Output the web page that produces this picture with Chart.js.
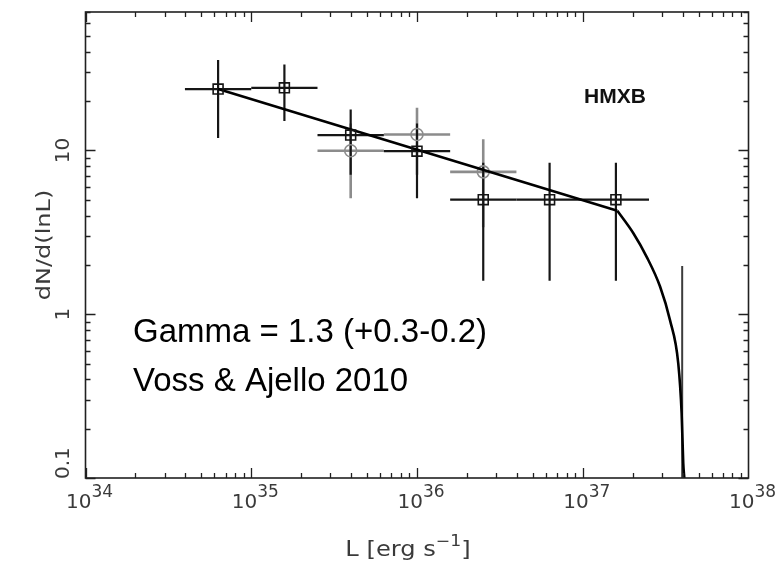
<!DOCTYPE html>
<html>
<head>
<meta charset="utf-8">
<script src="https://cdn.jsdelivr.net/npm/chart.js@4.4.1/dist/chart.umd.min.js"></script>
<style>
  html, body { margin: 0; padding: 0; background: #fff; }
  #wrap { width: 780px; height: 565px; position: relative; }
</style>
</head>
<body>
<div id="wrap"><canvas id="c" width="780" height="565"></canvas></div>
<script>
// Luminosity bins (erg/s): centres and edges, 0.4 dex wide
const binCenters = [6.31e34, 1.585e35, 3.98e35, 1.0e36, 2.51e36, 6.31e36, 1.585e37];
const binLow     = [3.98e34, 1.0e35, 2.51e35, 6.31e35, 1.585e36, 3.98e36, 1.0e37];
const binHigh    = [1.0e35, 2.51e35, 6.31e35, 1.585e36, 3.98e36, 1.0e37, 2.51e37];

// HMXB differential luminosity function (squares)
const hmxbValues = [23.7, 24.1, 12.4, 9.9, 5.0, 5.0, 5.0];
const hmxbUpper  = [35.6, 33.5, 17.8, 14.6, 8.4, 8.4, 8.4];
const hmxbLower  = [11.9, 15.1, 7.1, 5.1, 1.6, 1.6, 1.6];

// Alternative sample (grey circles)
const altCenters = [3.98e35, 1.0e36, 2.51e36];
const altLow     = [2.51e35, 6.31e35, 1.585e36];
const altHigh    = [6.31e35, 1.585e36, 3.98e36];
const altValues  = [9.96, 12.5, 7.4];
const altUpper   = [14.6, 18.2, 11.7];
const altLower   = [5.1, 7.1, 3.4];

// Empty bin: upper limit only
const limitL     = [3.98e37];
const limitUpper = [1.97];

// Best-fit power law and its high-luminosity cutoff
const fitL        = [6.31e34, 1.617e37];
const fitValues   = [23.7, 4.28];
const cutoffL     = [1.617e37, 2.02e37, 2.43e37, 2.93e37, 3.36e37, 3.77e37, 3.95e37, 4.04e37, 4.1e37];
const cutoffValues= [4.28, 3.12, 2.24, 1.47, 0.92, 0.50, 0.248, 0.123, 0.1];

// Axis ticks
const xTickExponents = [34, 35, 36, 37, 38];
const yTickValues    = [0.1, 1, 10];
const yTickLabels    = ['0.1', '1', '10'];

const X_MIN = 1e34, X_MAX = 1e38, Y_MIN = 0.1, Y_MAX = 70;
const AXIS_FONT = '"DejaVu Sans", sans-serif';
const AXIS_COLOR = '#3a3a3a';

// Error bars drawn underneath the markers
const errorBars = {
  id: 'errorBars',
  beforeDatasetsDraw(chart) {
    const { ctx, chartArea: a } = chart;
    const xs = chart.scales.x, ys = chart.scales.y;
    ctx.save();
    ctx.beginPath();
    ctx.rect(a.left, a.top, a.right - a.left, a.bottom - a.top);
    ctx.clip();
    ctx.lineCap = 'butt';
    function bars(cx, lo, hi, v, up, dn, color, w) {
      ctx.strokeStyle = color;
      ctx.lineWidth = w;
      for (let i = 0; i < cx.length; i++) {
        const px = xs.getPixelForValue(cx[i]);
        const py = ys.getPixelForValue(v[i]);
        ctx.beginPath();
        ctx.moveTo(xs.getPixelForValue(lo[i]), py);
        ctx.lineTo(xs.getPixelForValue(hi[i]), py);
        ctx.moveTo(px, ys.getPixelForValue(up[i]));
        ctx.lineTo(px, ys.getPixelForValue(dn[i]));
        ctx.stroke();
      }
    }
    bars(altCenters, altLow, altHigh, altValues, altUpper, altLower, '#8c8c8c', 2.6);
    bars(binCenters, binLow, binHigh, hmxbValues, hmxbUpper, hmxbLower, '#161616', 2.2);
    ctx.strokeStyle = '#3c3c3c';
    ctx.lineWidth = 2;
    limitL.forEach((l, i) => {
      const px = xs.getPixelForValue(l);
      ctx.beginPath();
      ctx.moveTo(px, ys.getPixelForValue(limitUpper[i]));
      ctx.lineTo(px, a.bottom);
      ctx.stroke();
    });
    ctx.restore();
  }
};

// Frame, inward ticks, tick labels, axis titles and annotations
const frameAndText = {
  id: 'frameAndText',
  afterDraw(chart) {
    const { ctx, chartArea: a } = chart;
    const xs = chart.scales.x, ys = chart.scales.y;
    ctx.save();
    ctx.strokeStyle = '#202020';
    ctx.lineWidth = 1.6;
    ctx.strokeRect(a.left, a.top, a.right - a.left, a.bottom - a.top);

    ctx.lineWidth = 1.3;
    ctx.beginPath();
    for (let d = 34; d <= 37; d++) {
      for (let k = 1; k <= 9; k++) {
        const px = Math.round(xs.getPixelForValue(k * Math.pow(10, d))) + 0.5;
        const len = k === 1 ? 10 : 5;
        ctx.moveTo(px, a.bottom); ctx.lineTo(px, a.bottom - len);
        ctx.moveTo(px, a.top);    ctx.lineTo(px, a.top + len);
      }
    }
    for (let d = -1; d <= 1; d++) {
      for (let k = 1; k <= 9; k++) {
        const v = k * Math.pow(10, d);
        if (v > Y_MAX) break;
        const py = Math.round(ys.getPixelForValue(v)) + 0.5;
        const len = k === 1 ? 10 : 5;
        ctx.moveTo(a.left, py);  ctx.lineTo(a.left + len, py);
        ctx.moveTo(a.right, py); ctx.lineTo(a.right - len, py);
      }
    }
    ctx.stroke();

    // x tick labels: 10 with superscript exponent
    ctx.fillStyle = AXIS_COLOR;
    ctx.textBaseline = 'alphabetic';
    ctx.textAlign = 'left';
    xTickExponents.forEach(e => {
      const px = xs.getPixelForValue(Math.pow(10, e));
      ctx.font = '20px ' + AXIS_FONT;
      const wb = ctx.measureText('10').width;
      ctx.font = '17px ' + AXIS_FONT;
      const we = ctx.measureText(String(e)).width;
      const x0 = px + 4 - (wb + we) / 2;
      ctx.font = '20px ' + AXIS_FONT;
      ctx.fillText('10', x0, a.bottom + 30);
      ctx.font = '17px ' + AXIS_FONT;
      ctx.fillText(String(e), x0 + wb, a.bottom + 19);
    });

    // y tick labels, rotated
    ctx.font = '20px ' + AXIS_FONT;
    yTickValues.forEach((v, i) => {
      let py = ys.getPixelForValue(v);
      const w = ctx.measureText(yTickLabels[i]).width;
      if (py + w / 2 > a.bottom + 1) py = a.bottom + 1 - w / 2;
      ctx.save();
      ctx.translate(69, py);
      ctx.rotate(-Math.PI / 2);
      ctx.textAlign = 'center';
      ctx.fillText(yTickLabels[i], 0, 0);
      ctx.restore();
    });

    // y axis title
    ctx.save();
    ctx.translate(50, 245);
    ctx.rotate(-Math.PI / 2);
    ctx.scale(1.2, 1);
    ctx.textAlign = 'center';
    ctx.font = '20px ' + AXIS_FONT;
    ctx.fillText('dN/d(lnL)', 0, 0);
    ctx.restore();

    // x axis title with superscript
    ctx.save();
    const cx = 408;
    ctx.translate(cx, 556);
    ctx.scale(1.15, 1);
    ctx.font = '21px ' + AXIS_FONT;
    const t1 = 'L [erg s';
    const w1 = ctx.measureText(t1).width;
    ctx.font = '15px ' + AXIS_FONT;
    const t2 = '\u22121';
    const w2 = ctx.measureText(t2).width;
    ctx.font = '21px ' + AXIS_FONT;
    const w3 = ctx.measureText(']').width;
    const x0 = -(w1 + w2 + w3) / 2;
    ctx.textAlign = 'left';
    ctx.fillText(t1, x0, 0);
    ctx.font = '15px ' + AXIS_FONT;
    ctx.fillText(t2, x0 + w1, -10);
    ctx.font = '21px ' + AXIS_FONT;
    ctx.fillText(']', x0 + w1 + w2, 0);
    ctx.restore();

    // annotations
    ctx.fillStyle = '#111';
    ctx.font = 'bold 21px "Liberation Sans", Arial, sans-serif';
    ctx.textAlign = 'left';
    ctx.fillText('HMXB', 584, 103);

    ctx.fillStyle = '#000';
    ctx.font = '33px "Liberation Sans", Arial, sans-serif';
    ctx.fillText('Gamma = 1.3 (+0.3-0.2)', 133, 342);
    ctx.fillText('Voss & Ajello 2010', 133, 391);
    ctx.restore();
  }
};

const toPts = (xs, ys) => xs.map((x, i) => ({ x, y: ys[i] }));

new Chart(document.getElementById('c'), {
  type: 'scatter',
  data: {
    datasets: [
      {
        label: 'HMXB',
        data: toPts(binCenters, hmxbValues),
        pointStyle: 'rect',
        pointRadius: 7,
        borderColor: '#141414',
        backgroundColor: 'rgba(0,0,0,0)',
        borderWidth: 1.6
      },
      {
        label: 'Power law',
        type: 'line',
        data: toPts(fitL, fitValues),
        borderColor: '#000',
        borderWidth: 2.6,
        pointRadius: 0,
        tension: 0,
        fill: false
      },
      {
        label: 'Cutoff',
        type: 'line',
        data: toPts(cutoffL, cutoffValues),
        borderColor: '#000',
        borderWidth: 2.6,
        pointRadius: 0,
        cubicInterpolationMode: 'monotone',
        fill: false
      },
      {
        label: 'Alternative',
        data: toPts(altCenters, altValues),
        pointStyle: 'circle',
        pointRadius: 6,
        borderColor: '#8c8c8c',
        backgroundColor: 'rgba(0,0,0,0)',
        borderWidth: 1.6
      }
    ]
  },
  options: {
    responsive: false,
    animation: false,
    devicePixelRatio: 1,
    layout: { padding: { left: 85.5, right: 31.5, top: 12, bottom: 87 } },
    plugins: { legend: { display: false }, tooltip: { enabled: false } },
    scales: {
      x: { type: 'logarithmic', min: X_MIN, max: X_MAX, display: false },
      y: { type: 'logarithmic', min: Y_MIN, max: Y_MAX, display: false }
    }
  },
  plugins: [errorBars, frameAndText]
});
</script>
</body>
</html>
